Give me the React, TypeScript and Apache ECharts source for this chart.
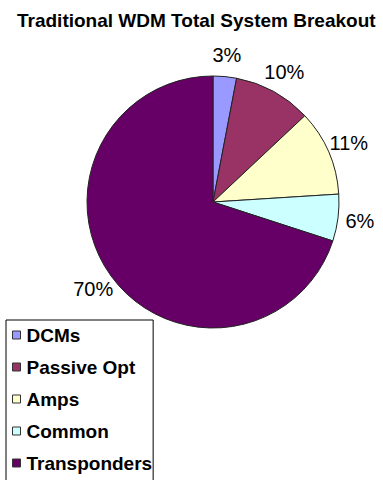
import React, { useEffect, useRef } from "react";
import * as echarts from "echarts";

// Share of total system cost, clockwise from 12 o'clock
const categories = ["DCMs", "Passive Opt", "Amps", "Common", "Transponders"];
const shares = [3, 10, 11, 6, 70];
const colors = ["#9999FF", "#993366", "#FFFFCC", "#CCFFFF", "#660066"];

const FONT = "'Liberation Sans', Arial, Helvetica, sans-serif";

export default function App() {
  const ref = useRef<HTMLDivElement>(null);

  useEffect(() => {
    if (!ref.current) return;
    const chart = echarts.init(ref.current, undefined, { renderer: "svg" });

    chart.setOption({
      animation: false,
      backgroundColor: "#ffffff",
      title: {
        text: "Traditional WDM Total System Breakout",
        left: 17,
        top: 11,
        padding: 0,
        textStyle: {
          fontFamily: FONT,
          fontSize: 19,
          fontWeight: "bold",
          color: "#000000",
        },
      },
      legend: {
        orient: "vertical",
        left: 6,
        top: 320,
        height: 220,
        padding: [5, 1, 14, 6],
        backgroundColor: "#ffffff",
        borderColor: "#000000",
        borderWidth: 1,
        borderRadius: 0,
        icon: "rect",
        itemWidth: 8,
        itemHeight: 8,
        itemGap: 12,
        itemStyle: { borderColor: "#333333", borderWidth: 1 },
        textStyle: {
          fontFamily: FONT,
          fontSize: 19,
          fontWeight: "bold",
          lineHeight: 20,
          color: "#000000",
          padding: [0, 0, 0, 1],
        },
        data: categories,
      },
      series: [
        {
          type: "pie",
          center: [213, 202],
          radius: 126,
          startAngle: 90,
          clockwise: true,
          avoidLabelOverlap: false,
          itemStyle: { borderColor: "#222222", borderWidth: 1 },
          emphasis: { disabled: true },
          label: {
            show: true,
            position: "outside",
            formatter: "{c}%",
            fontFamily: FONT,
            fontSize: 20,
            color: "#000000",
            distanceToLabelLine: 0,
          },
          labelLine: { show: false, length: 22, length2: 0 },
          labelLayout: { align: "center", verticalAlign: "middle" },
          data: categories.map((name, i) => ({
            name,
            value: shares[i],
            itemStyle: { color: colors[i] },
          })),
        },
      ],
    });

    return () => chart.dispose();
  }, []);

  return (
    <div
      ref={ref}
      style={{ position: "fixed", left: 0, top: 0, width: 383, height: 480 }}
    />
  );
}
